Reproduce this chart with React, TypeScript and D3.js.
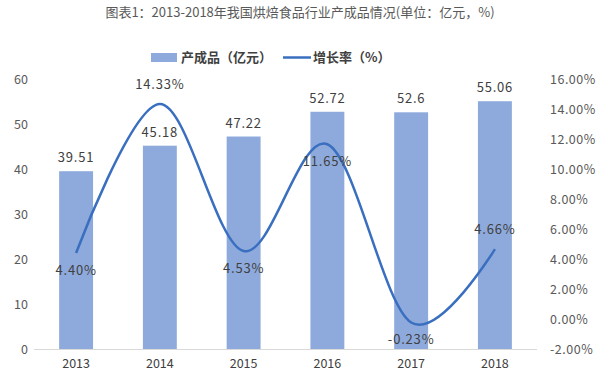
import React from "react";
import * as d3 from "d3";

const years = ["2013", "2014", "2015", "2016", "2017", "2018"];
const output = [39.51, 45.18, 47.22, 52.72, 52.6, 55.06];
const growth = [4.4, 14.33, 4.53, 11.65, -0.23, 4.66];
const growthLabelPos = ["below", "above", "below", "below", "below", "above"];
const leftTicks = [0, 10, 20, 30, 40, 50, 60];
const rightTicks = [-2, 0, 2, 4, 6, 8, 10, 12, 14, 16];

const W = 600, H = 381;
const FONT = "'Noto Sans CJK SC', 'Liberation Sans', sans-serif";

export default function App() {
  const x = d3.scaleBand<string>().domain(years).range([34, 537]).paddingInner(0.595).paddingOuter(0.3);
  const yL = d3.scaleLinear().domain([0, 60]).range([349, 79]);
  const yR = d3.scaleLinear().domain([-2, 16]).range([349, 79]);
  const cx = (y: string) => (x(y) as number) + x.bandwidth() / 2;
  const line = d3.line<number>()
    .x((_, i) => cx(years[i]))
    .y((d) => yR(d))
    .curve(d3.curveCardinal.tension(0));
  const blue = "#8eaadc";
  const lineBlue = "#3a6fc0";
  const txt = "#404040";
  const axisTxt = "#595959";
  return (
    <svg width={W} height={H} style={{ position: "absolute", left: 0, top: 0, background: "#fff" }} fontFamily={FONT}>
      <text x={300} y={17} textAnchor="middle" fontSize={13} fill="#595959">图表1：2013-2018年我国烘焙食品行业产成品情况(单位：亿元，%)</text>
      {/* legend */}
      <rect x={151} y={53} width={26} height={9} fill={blue} />
      <text x={181} y={62} fontSize={13} fill={txt} fontWeight="bold">产成品（亿元）</text>
      <line x1={283} x2={311} y1={57.5} y2={57.5} stroke={lineBlue} strokeWidth={2.5} />
      <text x={313} y={62} fontSize={13} fill={txt} fontWeight="bold">增长率（%）</text>
      {/* baseline */}
      <line x1={34} x2={537} y1={349.5} y2={349.5} stroke="#d9d9d9" strokeWidth={1} />
      {/* left axis */}
      {leftTicks.map((t) => (
        <text key={"l" + t} x={28} y={yL(t) + 4.5} textAnchor="end" fontSize={12.5} fill={axisTxt}>{t}</text>
      ))}
      {rightTicks.map((t) => (
        <text key={"r" + t} x={550} y={yR(t) + 4.5} textAnchor="start" fontSize={12.5} fill={axisTxt} letterSpacing={0.5}>{t.toFixed(2) + "%"}</text>
      ))}
      {/* x labels */}
      {years.map((y) => (
        <text key={"x" + y} x={cx(y)} y={368} textAnchor="middle" fontSize={12.5} fill={txt}>{y}</text>
      ))}
      {/* bars */}
      {output.map((v, i) => (
        <rect key={"b" + i} x={x(years[i])} y={yL(v)} width={x.bandwidth()} height={yL(0) - yL(v)} fill={blue} />
      ))}
      {output.map((v, i) => (
        <text key={"bl" + i} x={cx(years[i])} y={yL(v) - 9} textAnchor="middle" fontSize={13} fill={txt} letterSpacing={0.8}>{String(v)}</text>
      ))}
      {/* line */}
      <path d={line(growth) || ""} fill="none" stroke={lineBlue} strokeWidth={2.5} />
      {growth.map((v, i) => (
        <text key={"gl" + i} x={cx(years[i])} y={growthLabelPos[i] === "above" ? yR(v) - 15 : yR(v) + 22} textAnchor="middle" fontSize={13} fill={txt} letterSpacing={0.8}>{v.toFixed(2) + "%"}</text>
      ))}
    </svg>
  );
}
